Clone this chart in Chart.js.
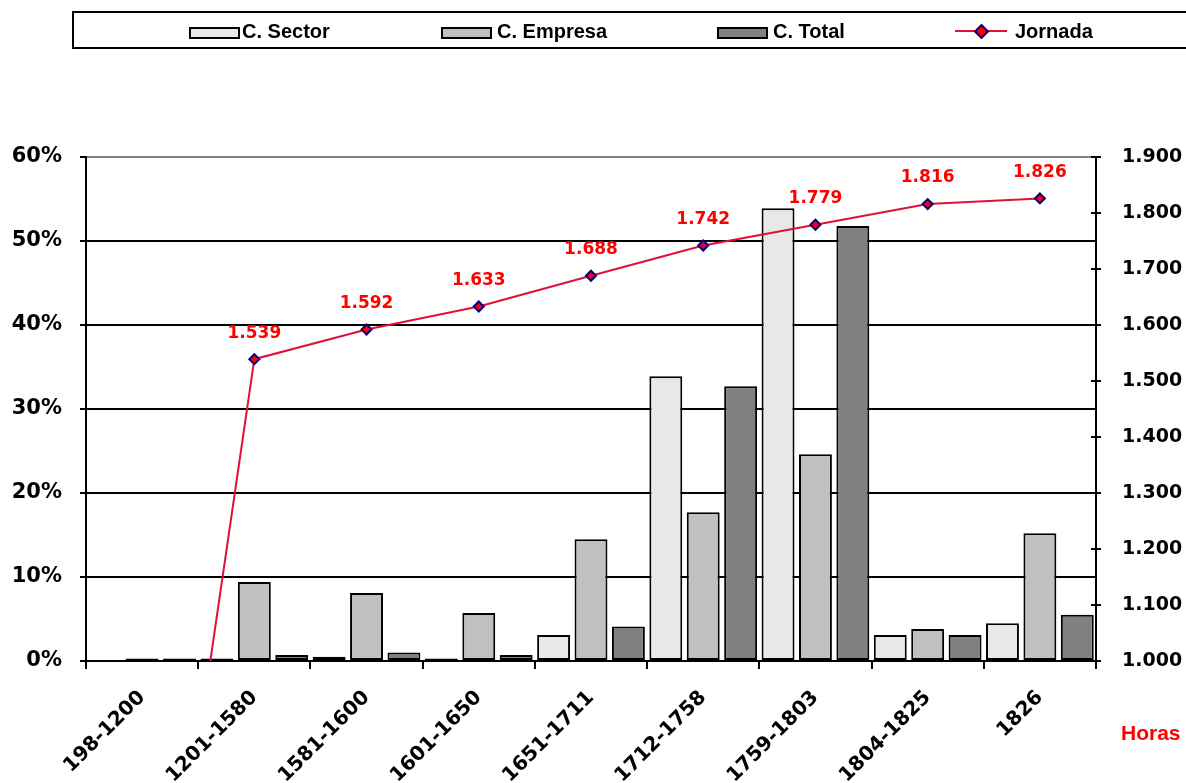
<!DOCTYPE html>
<html>
<head>
<meta charset="utf-8">
<script src="https://cdn.jsdelivr.net/npm/chart.js@4.4.1/dist/chart.umd.min.js"></script>
<style>
  body { margin: 0; background: #fff; }
  #wrap { position: relative; width: 1186px; height: 783px; overflow: hidden; }
  #legend {
    position: absolute; left: 72px; top: 11px; width: 1200px; height: 34px;
    border: 2px solid #000; font: bold 20px "Liberation Sans", Arial, sans-serif; color: #000;
  }
  .item { position: absolute; top: 1px; height: 34px; line-height: 34px; white-space: nowrap; }
  .sw { position: absolute; top: 14px; width: 47px; height: 8px; border: 2px solid #000; }
  .ln { position: absolute; top: 17px; width: 52px; height: 2px; background: #e0103c; }
  .dm { position: absolute; top: 13px; width: 7px; height: 7px; background: #ff0000;
        border: 2px solid #000080; transform: rotate(45deg); }
  #horas { position: absolute; left: 1121px; top: 721px; color: #ff0000;
           font: bold 21px "Liberation Sans", Arial, sans-serif; }
</style>
</head>
<body>
<div id="wrap">
  <canvas id="grafico" width="1186" height="783"></canvas>
  <div id="legend"></div>
  <div id="horas">Horas</div>
</div>
<script>
var categories = ["198-1200", "1201-1580", "1581-1600", "1601-1650", "1651-1711", "1712-1758", "1759-1803", "1804-1825", "1826"];
var sector = [0, 0.3, 0.5, 0.3, 3.1, 33.9, 53.9, 3.1, 4.5];
var empresa = [0.3, 9.4, 8.1, 5.7, 14.5, 17.7, 24.6, 3.8, 15.2];
var total = [0.3, 0.7, 1.0, 0.7, 4.1, 32.7, 51.8, 3.1, 5.5];
var jornada = [165, 1539, 1592, 1633, 1688, 1742, 1779, 1816, 1826];

var seriesNames = ["C. Sector", "C. Empresa", "C. Total", "Jornada"];
var barColors = ["#e8e8e8", "#c0c0c0", "#808080"];
var lineColor = "#e0103c";

function formatHoras(v) {
  var miles = Math.floor(v / 1000);
  var resto = String(Math.round(v % 1000));
  while (resto.length < 3) resto = "0" + resto;
  return miles + "." + resto;
}

// legend (html)
var legendPos = [
  { sw: 115, tx: 168 },
  { sw: 367, tx: 423 },
  { sw: 643, tx: 699 },
  { sw: 881, tx: 941 }
];
var legendHtml = "";
for (var i = 0; i < seriesNames.length; i++) {
  if (i < 3) {
    legendHtml += "<div class='sw' style='left:" + legendPos[i].sw + "px;background:" + barColors[i] + "'></div>";
  } else {
    legendHtml += "<div class='ln' style='left:" + legendPos[i].sw + "px'></div>";
    legendHtml += "<div class='dm' style='left:" + (legendPos[i].sw + 21) + "px'></div>";
  }
  legendHtml += "<div class='item' style='left:" + legendPos[i].tx + "px'>" + seriesNames[i] + "</div>";
}
document.getElementById("legend").innerHTML = legendHtml;

var pointLabels = {
  id: "pointLabels",
  afterDatasetsDraw: function (chart) {
    var meta = chart.getDatasetMeta(3);
    var ctx = chart.ctx;
    ctx.save();
    ctx.font = "bold 17px 'DejaVu Sans'";
    ctx.fillStyle = "#ff0000";
    ctx.textAlign = "center";
    ctx.textBaseline = "middle";
    for (var i = 0; i < meta.data.length; i++) {
      if (jornada[i] < 1000) continue;
      var pt = meta.data[i];
      ctx.fillText(formatHoras(jornada[i]), pt.x, pt.y - 26);
    }
    ctx.restore();
  }
};

// right axis ticks also cross into the plot area
var innerTicks = {
  id: "innerTicks",
  afterDraw: function (chart) {
    var s = chart.scales.y2;
    var ctx = chart.ctx;
    ctx.save();
    ctx.strokeStyle = "#000";
    ctx.lineWidth = 2;
    s.ticks.forEach(function (t) {
      var y = s.getPixelForValue(t.value);
      ctx.beginPath();
      ctx.moveTo(s.left - 5, y);
      ctx.lineTo(s.left, y);
      ctx.stroke();
    });
    ctx.restore();
  }
};

var barSets = [sector, empresa, total].map(function (d, i) {
  return {
    type: "bar",
    label: seriesNames[i],
    data: d,
    backgroundColor: barColors[i],
    borderColor: "#000",
    borderWidth: 2,
    borderSkipped: false,
    barPercentage: 0.88,
    categoryPercentage: 1.0,
    yAxisID: "y",
    order: 1
  };
});

var chart = new Chart(document.getElementById("grafico").getContext("2d"), {
  data: {
    labels: categories,
    datasets: barSets.concat([{
      type: "line",
      label: seriesNames[3],
      data: jornada,
      borderColor: lineColor,
      borderWidth: 2,
      pointStyle: "rectRot",
      pointRadius: 5,
      pointBackgroundColor: "#ff0000",
      pointBorderColor: "#000080",
      pointBorderWidth: 2,
      tension: 0,
      yAxisID: "y2",
      order: 0
    }])
  },
  options: {
    responsive: false,
    animation: false,
    layout: { padding: { top: 157, left: 0, right: 0, bottom: 0 } },
    plugins: { legend: { display: false }, tooltip: { enabled: false } },
    scales: {
      x: {
        offset: true,
        grid: { offset: true, drawOnChartArea: false, color: "#000", lineWidth: 2, tickLength: 8 },
        border: { color: "#000", width: 2 },
        ticks: { color: "#000", font: { family: "'DejaVu Sans'", size: 20, weight: "bold" },
                 minRotation: 45, maxRotation: 45, padding: 17, autoSkip: false },
        afterFit: function (s) { s.height = 122; }
      },
      y: {
        position: "left",
        min: 0, max: 60,
        ticks: { stepSize: 10, color: "#000", font: { family: "'DejaVu Sans'", size: 21, weight: "bold" },
                 padding: 18, callback: function (v) { return v + "%"; } },
        grid: {
          color: function (c) { return c.tick && c.tick.value === 60 ? "#808080" : "#000"; },
          tickColor: "#000", lineWidth: 2, tickLength: 6
        },
        border: { color: "#000", width: 2 },
        afterFit: function (s) { s.width = 86; }
      },
      y2: {
        position: "right",
        min: 1000, max: 1900,
        ticks: { stepSize: 100, color: "#000", font: { family: "'DejaVu Sans'", size: 19, weight: "bold" },
                 padding: 21, callback: function (v) { return formatHoras(v); } },
        grid: { drawOnChartArea: false, color: "#000", lineWidth: 2, tickLength: 5 },
        border: { color: "#000", width: 2 },
        afterFit: function (s) { s.width = 90; }
      }
    }
  },
  plugins: [pointLabels, innerTicks]
});
</script>
</body>
</html>
